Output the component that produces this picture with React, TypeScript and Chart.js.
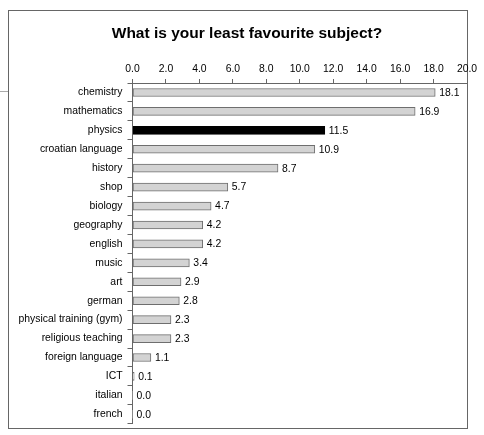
import React, { useEffect, useRef } from "react";
import { Chart, registerables } from "chart.js";

Chart.register(...registerables);

const TITLE = "What is your least favourite subject?";

const subjects = [
  "chemistry",
  "mathematics",
  "physics",
  "croatian language",
  "history",
  "shop",
  "biology",
  "geography",
  "english",
  "music",
  "art",
  "german",
  "physical training (gym)",
  "religious teaching",
  "foreign language",
  "ICT",
  "italian",
  "french",
];

const percentages = [
  18.1, 16.9, 11.5, 10.9, 8.7, 5.7, 4.7, 4.2, 4.2, 3.4, 2.9, 2.8, 2.3, 2.3, 1.1,
  0.1, 0.0, 0.0,
];

const highlighted = "physics";

const axisMin = 0;
const axisMax = 20;
const axisStep = 2;

const FONT = "Arial, 'Liberation Sans', sans-serif";
const LABEL_SIZE = 10.4;

// Title centred over the framed panel.
const panelTitle = {
  id: "panelTitle",
  afterDraw(chart: any) {
    const { ctx } = chart;
    ctx.save();
    ctx.font = `bold 15.5px ${FONT}`;
    ctx.fillStyle = "#000";
    ctx.textAlign = "center";
    ctx.textBaseline = "middle";
    ctx.fillText(TITLE, 247, 33.5);
    ctx.restore();
  },
};

// Writes each bar's value just past its end.
const valueLabels = {
  id: "valueLabels",
  afterDatasetsDraw(chart: any) {
    const { ctx } = chart;
    const meta = chart.getDatasetMeta(0);
    const data = chart.data.datasets[0].data as number[];
    ctx.save();
    ctx.font = `${LABEL_SIZE}px ${FONT}`;
    ctx.fillStyle = "#000";
    ctx.textAlign = "left";
    ctx.textBaseline = "middle";
    meta.data.forEach((bar: any, i: number) => {
      ctx.fillText(data[i].toFixed(1), bar.x + 4, bar.y + 0.5);
    });
    ctx.restore();
  },
};

export default function App() {
  const canvasRef = useRef<HTMLCanvasElement | null>(null);

  useEffect(() => {
    if (!canvasRef.current) return;
    const chart = new Chart(canvasRef.current, {
      type: "bar",
      data: {
        labels: subjects,
        datasets: [
          {
            data: percentages,
            backgroundColor: subjects.map((s) =>
              s === highlighted ? "#000000" : "#d3d3d3"
            ),
            borderColor: subjects.map((s) =>
              s === highlighted ? "#000000" : "#6e6e6e"
            ),
            borderWidth: percentages.map((v) => (v > 0 ? 1 : 0)),
            borderSkipped: false,
            barThickness: 8,
          },
        ],
      },
      options: {
        indexAxis: "y",
        animation: false,
        responsive: false,
        maintainAspectRatio: false,
        layout: { padding: { left: 0, right: 17, top: 0, bottom: 7 } },
        plugins: {
          legend: { display: false },
          tooltip: { enabled: false },
          title: { display: false },
        },
        scales: {
          x: {
            position: "top",
            min: axisMin,
            max: axisMax,
            afterFit: (scale: any) => {
              scale.height = 83;
            },
            ticks: {
              stepSize: axisStep,
              color: "#000",
              padding: 4,
              maxRotation: 0,
              font: { family: FONT, size: LABEL_SIZE },
              callback: (v: any) => Number(v).toFixed(1),
            },
            grid: {
              drawOnChartArea: false,
              drawTicks: true,
              tickLength: 4,
              color: "#666",
            },
            border: { display: true, color: "#666", width: 1 },
          },
          y: {
            afterFit: (scale: any) => {
              scale.width = 132.5;
            },
            ticks: {
              color: "#000",
              padding: 5,
              autoSkip: false,
              font: { family: FONT, size: LABEL_SIZE },
            },
            grid: {
              offset: true,
              drawOnChartArea: false,
              drawTicks: true,
              tickLength: 5,
              color: "#666",
            },
            border: { display: true, color: "#666", width: 1 },
          },
        },
      },
      plugins: [valueLabels, panelTitle],
    });
    return () => chart.destroy();
  }, []);

  return (
    <div
      style={{
        position: "fixed",
        left: 0,
        top: 0,
        width: 484,
        height: 435,
        background: "#fff",
        overflow: "hidden",
      }}
    >
      <div
        style={{
          position: "absolute",
          left: 8,
          top: 10,
          width: 460,
          height: 419,
          boxSizing: "border-box",
          border: "1px solid #666",
        }}
      />
      <div
        style={{
          position: "absolute",
          left: 0,
          top: 91,
          width: 8,
          height: 1,
          background: "#aaa",
        }}
      />
      <canvas
        ref={canvasRef}
        width={484}
        height={435}
        style={{ position: "absolute", left: 0, top: 0 }}
      />
    </div>
  );
}
